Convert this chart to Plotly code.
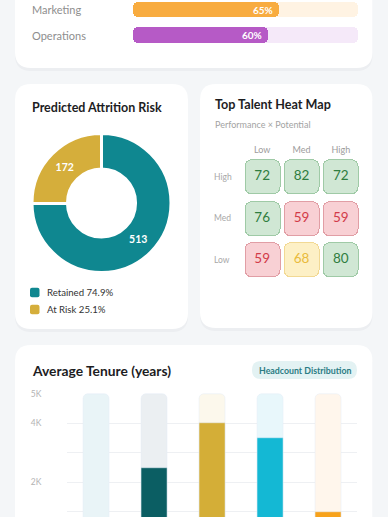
import plotly.graph_objects as go

W, H = 388, 517
FONT = "Lato"

# ---------------- data ----------------
dept_names = ["Marketing", "Operations"]
dept_pct = [65, 60]
dept_fill = ["#f8ac40", "#b65ac6"]
dept_track = ["#fff3e3", "#f5e9f9"]

risk_labels = ["Retained", "At Risk"]
risk_values = [513, 172]
risk_colors = ["#0f8790", "#d5ae3b"]

perf_levels = ["High", "Med", "Low"]      # rows (performance)
pot_levels = ["Low", "Med", "High"]       # columns (potential)
talent_scores = [
    [72, 82, 72],
    [76, 59, 59],
    [59, 68, 80],
]

tenure_depts = ["HR", "Engineering", "Sales", "Support", "Finance"]
tenure_values = [600, 2500, 4000, 3500, 1000]
tenure_cap = [5000, 5000, 5000, 5000, 5000]
tenure_colors = ["#8fc6d3", "#0b5e63", "#d4ae37", "#14b8d4", "#f7a21b"]
tenure_bg = ["#e9f4f7", "#ebeff2", "#fcf8ec", "#e8f7fb", "#fff6ec"]
tenure_ticks = [2000, 4000, 5000]
tenure_ticktext = ["2K", "4K", "5K"]
tenure_grid = [1000, 2000, 3000, 4000]


# ---------------- helpers ----------------
def fx(x):
    return x / W


def fy(y):
    return 1 - y / H


def rr_path(x0, y0, x1, y1, r):
    P = lambda x, y: f"{fx(x):.5f},{fy(y):.5f}"
    return (f"M{P(x0 + r, y0)} L{P(x1 - r, y0)} Q{P(x1, y0)} {P(x1, y0 + r)} "
            f"L{P(x1, y1 - r)} Q{P(x1, y1)} {P(x1 - r, y1)} L{P(x0 + r, y1)} "
            f"Q{P(x0, y1)} {P(x0, y1 - r)} L{P(x0, y0 + r)} Q{P(x0, y0)} {P(x0 + r, y0)} Z")


shapes = []


def card(x0, y0, x1, y1, r=16):
    shapes.append(dict(type="path", path=rr_path(x0, y0 + 2, x1, y1 + 3, r), xref="paper", yref="paper",
                       fillcolor="rgba(30,40,60,0.035)", line=dict(width=0), layer="below"))
    shapes.append(dict(type="path", path=rr_path(x0, y0, x1, y1, r), xref="paper", yref="paper",
                       fillcolor="#ffffff", line=dict(width=0), layer="below"))


card(15, -30, 372.5, 68)
card(15, 84, 188, 329)
card(200, 84, 372.5, 328)
card(15, 345, 372.5, 560)
# pill
shapes.append(dict(type="path", path=rr_path(252, 361, 357, 379, 9), xref="paper", yref="paper",
                   fillcolor="#e3f2f3", line=dict(width=0), layer="below"))

fig = go.Figure()

# ---------------- progress bars (two halves -> both ends rounded) ----------------
OVP = 6
half = [v / 2 for v in dept_pct]


def hbar(x, base, colors):
    fig.add_trace(go.Bar(orientation="h", y=dept_names, x=x, base=base, width=0.62,
                         marker=dict(color=colors, cornerradius=5, line=dict(width=0)),
                         hoverinfo="skip", xaxis="x", yaxis="y", showlegend=False))


hbar([-(50 + OVP)] * 2, [50 + OVP] * 2, dept_track)
hbar([50 + OVP] * 2, [50 - OVP] * 2, dept_track)
hbar([-(h + OVP) for h in half], [h + OVP for h in half], dept_fill)
hbar([h + OVP for h in half], [h - OVP for h in half], dept_fill)

# ---------------- donut ----------------
fig.add_trace(go.Pie(labels=risk_labels, values=risk_values, hole=0.49, sort=False,
                     direction="clockwise", rotation=0,
                     marker=dict(colors=risk_colors, line=dict(color="white", width=3)),
                     textinfo="value", textposition="inside", insidetextorientation="horizontal",
                     textfont=dict(color="white", size=10.5, family=FONT, weight="bold"),
                     domain=dict(x=[fx(32), fx(171)], y=[fy(273), fy(133)]),
                     showlegend=False, hoverinfo="label+value"))

# ---------------- heat map ----------------
PAL = {
    "g": ("#d0e7d4", "#9fcaa6", "#2f7d40"),
    "y": ("#fdf0c6", "#f2d994", "#e9bb3c"),
    "r": ("#f8d0d4", "#e19ea5", "#d23b49"),
}
xs, rows, fills, borders, tcols, texts = [], [], [], [], [], []
nrows = len(perf_levels)
for i, pl in enumerate(perf_levels):
    for j, cl in enumerate(pot_levels):
        v = talent_scores[i][j]
        k = "g" if v >= 70 else ("y" if v >= 65 else "r")
        xs.append(cl)
        rows.append(nrows - 1 - i)
        fills.append(PAL[k][0])
        borders.append(PAL[k][1])
        tcols.append(PAL[k][2])
        texts.append(str(v))

OW, OH = 0.916, 0.42
IW, IH = 0.865, 0.396
OV = 0.2
for w, h, cols, cr in [(OW, OH, borders, 7), (IW, IH, fills, 6)]:
    for sgn in (1, -1):
        fig.add_trace(go.Bar(x=xs, y=[sgn * (h + OV)] * len(xs), base=[r - sgn * OV for r in rows],
                             width=w, marker=dict(color=cols, cornerradius=cr, line=dict(width=0)),
                             hoverinfo="skip", xaxis="x2", yaxis="y2", showlegend=False))
fig.add_trace(go.Scatter(x=xs, y=rows, mode="text", text=texts,
                         textfont=dict(color=tcols, size=13.5, family=FONT),
                         hoverinfo="skip", xaxis="x2", yaxis="y2", showlegend=False))

# ---------------- tenure bars ----------------
fig.add_trace(go.Bar(x=tenure_depts, y=tenure_cap, width=0.45,
                     marker=dict(color=tenure_bg, cornerradius=5), hoverinfo="skip",
                     xaxis="x3", yaxis="y3", showlegend=False))
fig.add_trace(go.Bar(x=tenure_depts, y=tenure_values, width=0.45,
                     marker=dict(color=tenure_colors, cornerradius=6),
                     xaxis="x3", yaxis="y3", showlegend=False))

# ---------------- annotations ----------------
ann = []


def text(x, y, s, size, color, weight="normal", xanchor="left", yref="paper"):
    ann.append(dict(x=fx(x), y=fy(y) if yref == "paper" else y,
                    xref="paper", yref=yref, text=s, showarrow=False, xanchor=xanchor, yanchor="middle",
                    font=dict(size=size, color=color, family=FONT, weight=weight)))


for name, v in zip(dept_names, dept_pct):
    text(30, name, name, 11, "#8e8e8e", yref="y")
    ann.append(dict(x=v, y=name, xref="x", yref="y", text=f"{v}%", showarrow=False,
                    xanchor="right", yanchor="middle", xshift=-4,
                    font=dict(size=10, color="white", family=FONT, weight="bold")))

text(30, 107, "Predicted Attrition Risk", 12.5, "#1d1d1f", "bold")
tot = sum(risk_values)
for k, (lab, v, c) in enumerate(zip(risk_labels, risk_values, risk_colors)):
    yy = 292.5 + 17 * k
    shapes.append(dict(type="path", path=rr_path(30, yy - 4.7, 39.5, yy + 4.7, 2), xref="paper",
                       yref="paper", fillcolor=c, line=dict(width=0)))
    text(44.5, yy, f"{lab} {v / tot * 100:.1f}%", 9.6, "#333333")

text(213, 105, "Top Talent Heat Map", 12.6, "#1d1d1f", "bold")
text(213, 125, "Performance × Potential", 9, "#a3a3a3")
for i, pl in enumerate(perf_levels):
    text(212, nrows - 1 - i, pl, 8.5, "#a8a8a8", yref="y2")

text(30, 370, "Average Tenure (years)", 13.8, "#1d1d1f", "bold")
text(304.5, 370, "Headcount Distribution", 8.8, "#2b7c84", "bold", xanchor="center")

noax = dict(showgrid=False, zeroline=False, showline=False, showticklabels=False, ticks="")

fig.update_layout(
    width=W, height=H, margin=dict(l=0, r=0, t=0, b=0),
    paper_bgcolor="#f4f6f8", plot_bgcolor="rgba(0,0,0,0)",
    barmode="overlay", bargap=0, showlegend=False,
    font=dict(family=FONT),
    shapes=shapes, annotations=ann,
    xaxis=dict(domain=[fx(133), fx(358)], range=[0, 100], fixedrange=True, **noax),
    yaxis=dict(domain=[fy(45), fy(0)], type="category", categoryarray=dept_names[::-1],
               range=[-0.376, 1.368], fixedrange=True, **noax),
    xaxis2=dict(domain=[fx(242.5), fx(360.5)], type="category", categoryarray=pot_levels,
                range=[-0.5, 2.5], side="top", showgrid=False, zeroline=False, showline=False,
                ticks="", tickfont=dict(size=9, color="#9c9c9c", family=FONT), anchor="y2",
                fixedrange=True),
    yaxis2=dict(domain=[fy(280.75), fy(156.25)], range=[-0.5, 2.5], anchor="x2", fixedrange=True, **noax),
    xaxis3=dict(domain=[fx(67.3), fx(357.3)], type="category", categoryarray=tenure_depts,
                range=[-0.5, 4.5], anchor="y3", fixedrange=True, **noax),
    yaxis3=dict(domain=[0, fy(388)], range=[830, 5203], anchor="x3",
                tickvals=tenure_ticks, ticktext=tenure_ticktext, showgrid=False, zeroline=False,
                showline=False, ticks="", ticklabelstandoff=25,
                tickfont=dict(size=8.5, color="#b3b3b3", family=FONT),
                minor=dict(tickvals=tenure_grid, showgrid=True, gridcolor="#eef0f3", gridwidth=1, ticks=""),
                fixedrange=True),
)

fig.write_html("out.html", config={"displayModeBar": False},
               post_script="document.body.style.margin='0';document.body.style.overflow='hidden';")
